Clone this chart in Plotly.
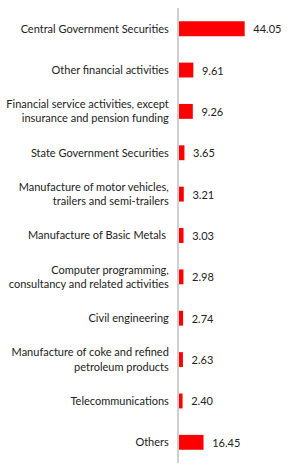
import plotly.graph_objects as go

categories = [
    "Central Government Securities",
    "Other financial activities",
    "Financial service activities, except<br>insurance and pension funding",
    "State Government Securities",
    "Manufacture of motor vehicles,<br>trailers and semi-trailers",
    "Manufacture of Basic Metals ",
    "Computer programming,<br>consultancy and related activities",
    "Civil engineering",
    "Manufacture of coke and refined<br>petroleum products",
    "Telecommunications",
    "Others",
]
values = [44.05, 9.61, 9.26, 3.65, 3.21, 3.03, 2.98, 2.74, 2.63, 2.40, 16.45]
value_labels = ["44.05", "9.61", "9.26", "3.65", "3.21", "3.03", "2.98", "2.74", "2.63", "2.40", "16.45"]

fig = go.Figure(go.Bar(
    x=values,
    y=categories,
    orientation="h",
    marker=dict(color="#FF0000", line=dict(width=0)),
    text=["  " + t for t in value_labels],
    textposition="outside",
    textfont=dict(family="Lato", size=11, color="#222222"),
    cliponaxis=False,
    width=0.36,
))

fig.update_layout(
    width=288, height=469,
    margin=dict(l=173, r=27, t=8, b=6),
    paper_bgcolor="white", plot_bgcolor="white",
    showlegend=False,
    font=dict(family="Lato", size=11, color="#222222"),
    xaxis=dict(range=[0, 55], showgrid=False, zeroline=False, showticklabels=False, showline=False),
    yaxis=dict(autorange="reversed", showgrid=False, zeroline=False,
               showline=True, linecolor="#D0D0D0", linewidth=2,
               ticks="outside", ticklen=6, tickcolor="rgba(0,0,0,0)",
               tickfont=dict(family="Lato", size=11, color="#222222")),
)

fig.write_html("out.html")
